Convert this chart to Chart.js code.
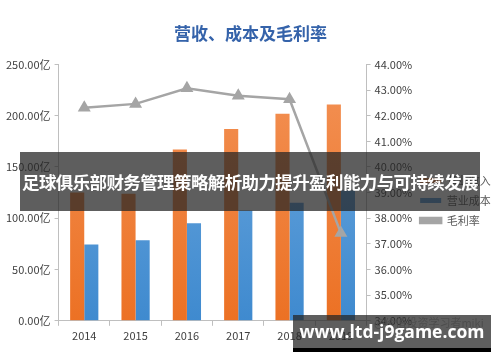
<!DOCTYPE html>
<html>
<head>
<meta charset="utf-8">
<script src="https://cdn.jsdelivr.net/npm/chart.js@4/dist/chart.umd.min.js"></script>
<style>
  html, body { margin: 0; padding: 0; background: #fff; }
  #wrap { position: relative; width: 500px; height: 362px; overflow: hidden; }
  canvas { position: absolute; left: 0; top: 0; }
  .banner { position: absolute; left: 20px; top: 152px; width: 460px; height: 59px;
    background: rgba(38,38,38,0.74); }
  .banner span { position: absolute; left: 2px; top: 0; color: #fff; font: bold 17.5px "Noto Sans CJK SC", sans-serif;
    line-height: 59px; white-space: nowrap; }
  .wm { position: absolute; left: 293px; top: 315px; width: 198px; height: 33px;
    background: rgba(38,38,38,0.74); color: #fff; font: bold 17.5px "Open Sans", "DejaVu Sans", sans-serif;
    line-height: 33px; text-align: center; white-space: nowrap; }
  .wmbar { position: absolute; left: 293px; top: 348px; width: 198px; height: 4px; background: #000; }
  .miki { position: absolute; left: 374px; top: 314px; color: #bdbdbd; font: 11px "Noto Sans CJK SC", sans-serif; white-space: nowrap; }
</style>
</head>
<body>
<div id="wrap">
  <canvas id="c" width="500" height="362"></canvas>
  <div class="miki">@价值投资学习者miki</div>
  <div class="banner"><span id="bt">足球俱乐部财务管理策略解析助力提升盈利能力与可持续发展</span></div>
  <div class="wm">www.ltd-j9game.com</div>
  <div class="wmbar"></div>
</div>
<script>
const years = ['2014', '2015', '2016', '2017', '2018', '2019'];
const revenue = [125, 124, 167, 187, 202, 211];      // 营业收入 (亿)
const cost = [74.5, 78.5, 95, 107.5, 115, 127];      // 营业成本 (亿)
const margin = [42.31, 42.46, 43.07, 42.78, 42.64, 37.42]; // 毛利率 (%)
const seriesNames = ['营业收入', '营业成本', '毛利率'];
const titleText = '营收、成本及毛利率';

const FONT = '"Noto Sans CJK SC", sans-serif';

// fit banner text to its reference width
(function () {
  const el = document.getElementById('bt');
  const w = el.getBoundingClientRect().width;
  const n = el.textContent.length;
  const target = 456;
  el.style.letterSpacing = ((target - w) / n) + 'px';
})();

function grad(ctx, top, bottom) {
  const area = ctx.chart.chartArea;
  if (!area) return bottom;
  const g = ctx.chart.ctx.createLinearGradient(0, area.top, 0, area.bottom);
  g.addColorStop(0, top);
  g.addColorStop(1, bottom);
  return g;
}

const legendShift = {
  id: 'legendShift',
  afterLayout(chart) {
    const lg = chart.legend;
    if (lg) { lg.top += 28; lg.bottom += 28; lg.left -= 5; lg.right -= 5; }
  }
};

new Chart(document.getElementById('c'), {
  data: {
    labels: years,
    datasets: [
      { type: 'bar', label: seriesNames[0], data: revenue, yAxisID: 'y', order: 2,
        backgroundColor: (ctx) => grad(ctx, '#F39256', '#EC7124'),
        categoryPercentage: 0.55, barPercentage: 1.0 },
      { type: 'bar', label: seriesNames[1], data: cost, yAxisID: 'y', order: 2,
        backgroundColor: (ctx) => grad(ctx, '#6FA9DE', '#3F8ACF'),
        categoryPercentage: 0.55, barPercentage: 1.0 },
      { type: 'line', label: seriesNames[2], data: margin, yAxisID: 'y1', order: 0,
        borderColor: '#A5A5A5', backgroundColor: '#A5A5A5', borderWidth: 2.5,
        pointStyle: 'triangle', pointRadius: 5, pointHoverRadius: 5,
        pointBackgroundColor: '#A5A5A5', pointBorderColor: '#A5A5A5', tension: 0 }
    ]
  },
  plugins: [legendShift],
  options: {
    responsive: false,
    animation: false,
    layout: { padding: { left: 2, right: 1, top: 0, bottom: 17 } },
    plugins: {
      title: { display: true, text: titleText, color: '#3563AA',
        font: { family: FONT, size: 17, weight: 'bold' }, padding: { top: 23, bottom: 21 } },
      legend: { position: 'right', align: 'center',
        labels: { boxWidth: 21, boxHeight: 5, padding: 9, color: '#595959',
          font: { family: FONT, size: 11 },
          sort: (a, b) => a.datasetIndex - b.datasetIndex } },
      tooltip: { enabled: false }
    },
    scales: {
      x: {
        grid: { display: true, drawOnChartArea: false, drawTicks: true, tickLength: 5, color: '#BFBFBF', offset: true },
        border: { color: '#BFBFBF' },
        ticks: { color: '#404040', font: { family: FONT, size: 11 }, padding: 3 }
      },
      y: {
        position: 'left', min: 0, max: 250,
        grid: { drawOnChartArea: false, drawTicks: true, tickLength: 4, color: '#BFBFBF' },
        border: { color: '#BFBFBF' },
        ticks: { stepSize: 50, color: '#404040', font: { family: FONT, size: 11 }, padding: 4,
          callback: (v) => v.toFixed(2) + '亿' }
      },
      y1: {
        position: 'right', min: 34, max: 44,
        grid: { drawOnChartArea: false, drawTicks: true, tickLength: 4, color: '#BFBFBF' },
        border: { color: '#BFBFBF' },
        ticks: { stepSize: 1, color: '#404040', font: { family: FONT, size: 11 }, padding: 4,
          callback: (v) => v.toFixed(2) + '%' }
      }
    }
  }
});
</script>
</body>
</html>
